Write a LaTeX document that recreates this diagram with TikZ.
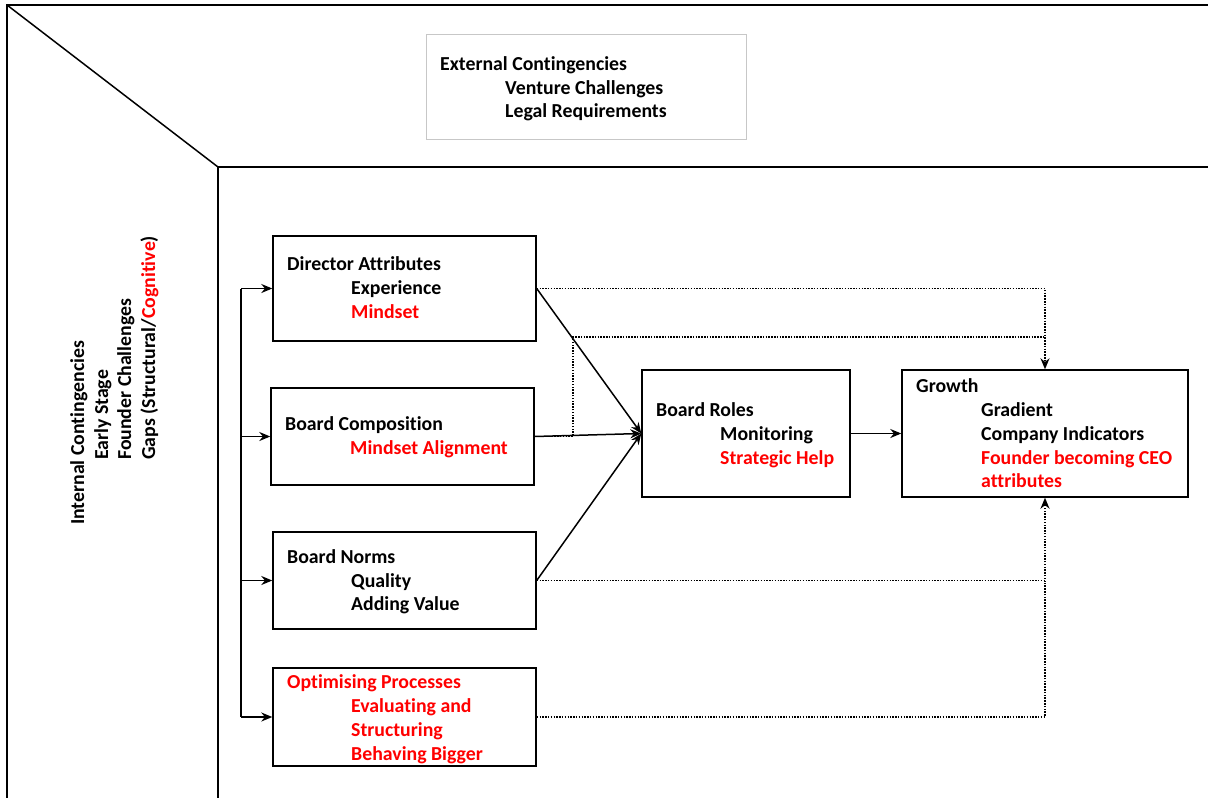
\documentclass[tikz,border=0pt]{standalone}
\usepackage{fontspec}
\setmainfont{Carlito}[Ligatures={NoCommon}]
\usetikzlibrary{arrows.meta}
\definecolor{myred}{RGB}{255,0,0}
\tikzset{
  txt/.style={anchor=base west, inner sep=0pt, font=\fontsize{19.8}{23}\selectfont\bfseries},
  rtxt/.style={txt, text=myred},
  box/.style={draw, line width=1.4pt, inner sep=0pt},
  frameline/.style={line width=2pt},
  conn/.style={line width=1.5pt, -{Stealth[length=11pt,width=9pt]}},
  dotline/.style={line width=1.5pt, dash pattern=on 1.5pt off 1.3pt},
  dotarrow/.style={dotline, -{Stealth[length=11pt,width=9pt]}}
}
\begin{document}
\begin{tikzpicture}[x=1pt,y=-1pt]
\useasboundingbox (0,0) rectangle (1208,798);
\fill[white] (0,0) rectangle (1208,798);
% frames
\coordinate (o1) at (7,5);
\coordinate (o2) at (1208,5);
\coordinate (o3) at (7,798);
\coordinate (i1) at (218,167);
\coordinate (i2) at (1208,167);
\coordinate (i3) at (218,798);
\draw[frameline] (o2) -- (o1) -- (o3);
\draw[frameline] (i2) -- (i1) -- (i3);
\draw[line width=1.5pt] (o1) -- (i1);
% external box
\node[draw=black!22, line width=0.8pt, minimum width=320pt, minimum height=105pt, inner sep=0pt] (ext) at (586,86.5) {};
\node[txt] (e1) at (440,70) {External Contingencies};
\node[txt] (e2) at (505,94) {Venture Challenges};
\node[txt] (e3) at (505,117) {Legal Requirements};
% internal contingencies (rotated)
\node[txt, rotate=90] (ic1) at (84,525) {Internal Contingencies};
\node[txt, rotate=90] (ic2) at (108,460) {Early Stage};
\node[txt, rotate=90] (ic3) at (131,460) {Founder Challenges};
\node[txt, rotate=90] (ic4) at (155,460) {Gaps (Structural/\textcolor{myred}{Cognitive})};
% boxes
\node[box, minimum width=263pt, minimum height=105pt] (da) at (404.5,288.5) {};
\node[txt] at (287,270.5) {Director Attributes};
\node[txt] at (351,294.5) {Experience};
\node[rtxt] at (351,318) {Mindset};

\node[box, minimum width=263pt, minimum height=97pt] (bc) at (402.5,436.5) {};
\node[txt] at (285,430.5) {Board Composition};
\node[rtxt] at (350,454.5) {Mindset Alignment};

\node[box, minimum width=263pt, minimum height=97pt] (bn) at (404.5,580.5) {};
\node[txt] at (287,563.5) {Board Norms};
\node[txt] at (351,587.5) {Quality};
\node[txt] at (351,610.5) {Adding Value};

\node[box, minimum width=263pt, minimum height=98pt] (op) at (404.5,717) {};
\node[rtxt] at (287,688.5) {Optimising Processes};
\node[rtxt] at (351,712.5) {Evaluating and};
\node[rtxt] at (351,736) {Structuring};
\node[rtxt] at (351,760) {Behaving Bigger};

\node[box, minimum width=208pt, minimum height=127pt] (br) at (746,433.5) {};
\node[txt] at (656,416.5) {Board Roles};
\node[txt] at (720,440.5) {Monitoring};
\node[rtxt] at (720,464) {Strategic Help};

\node[box, minimum width=286pt, minimum height=127pt] (gr) at (1045,433.5) {};
\node[txt] at (916,392.5) {Growth};
\node[txt] at (981,416.5) {Gradient};
\node[txt] at (981,440.5) {Company Indicators};
\node[rtxt] at (981,464) {Founder becoming CEO};
\node[rtxt] at (981,487.5) {attributes};

% bus
\coordinate (bus) at (241,0);
\draw[line width=1.5pt] (bus |- da.west) -- (bus |- op.west);
\draw[conn] (bus |- da.west) -- (da.west);
\draw[conn] (bus |- bc.west) -- (bc.west);
\draw[conn] (bus |- bn.west) -- (bn.west);
\draw[conn] (bus |- op.west) -- (op.west);
% solid connectors
\draw[conn] (da.east) -- (br.west);
\draw[conn] (bc.east) -- (br.west);
\draw[conn] (bn.east) -- (br.west);
\draw[conn] (br.east) -- (gr.west);
% dotted connectors
\coordinate (j1) at (573,337);
\coordinate (j2) at (gr.north |- j1);
\coordinate (j3) at (gr.south |- bn.east);
\draw[dotarrow] (da.east) -| (gr.north);
\draw[dotline] (bc.east) -| (j1) -- (j2);
\draw[dotarrow] (bn.east) -| (gr.south);
\draw[dotline] (op.east) -| (j3);
\end{tikzpicture}
\end{document}
